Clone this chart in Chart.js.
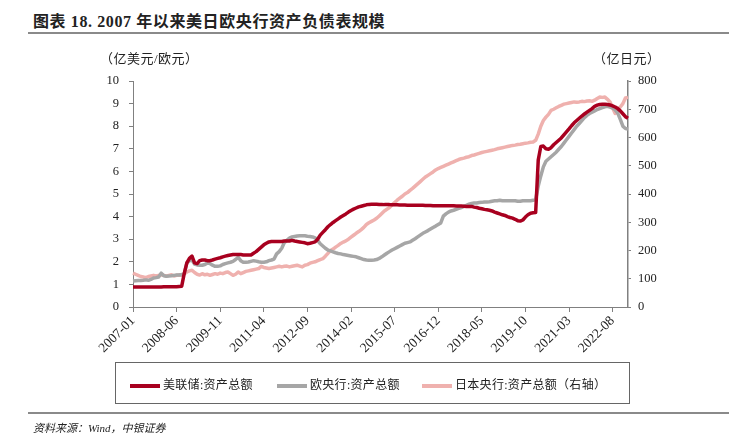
<!DOCTYPE html>
<html>
<head>
<meta charset="utf-8">
<script src="https://cdn.jsdelivr.net/npm/chart.js@4.4.0/dist/chart.umd.min.js"></script>
<style>
  body { margin: 0; background: #fff; }
  #wrap { position: relative; width: 729px; height: 444px; overflow: hidden;
          font-family: "Liberation Serif", "Noto Sans CJK SC", serif; color: #222; }
  #title { position: absolute; left: 33px; top: 8px; font-size: 16px; font-weight: bold; white-space: nowrap; letter-spacing: 0.6px; }
  .rule { position: absolute; left: 28px; width: 701px; height: 2px; background: #8a8a8a; }
  canvas { position: absolute; left: 0; top: 0; }
  .axt { position: absolute; font-size: 13px; white-space: nowrap; letter-spacing: 0.5px; }
  #legend { position: absolute; left: 115px; top: 362px; width: 515px; height: 42px;
            border: 1px solid #666; box-sizing: border-box; }
  .li { position: absolute; top: 12px; font-size: 12px; white-space: nowrap; letter-spacing: 0.3px; }
  .sw { display: inline-block; width: 30px; height: 4px; vertical-align: middle; margin-right: 3px; }
  #source { position: absolute; left: 33px; top: 419px; font-size: 11px; font-style: italic; white-space: nowrap; }
</style>
</head>
<body>
<div id="wrap">
  <div id="title">图表 18. 2007 年以来美日欧央行资产负债表规模</div>
  <div class="rule" style="top:32px"></div>
  <canvas id="chart" width="729" height="444"></canvas>
  <div class="axt" style="left:100px; top:48px">（亿美元/欧元）</div>
  <div class="axt" style="left:593px; top:48px">（亿日元）</div>
  <div id="legend">
    <div class="li" style="left:14px"><span class="sw" style="background:#a8001f"></span>美联储:资产总额</div>
    <div class="li" style="left:161px"><span class="sw" style="background:#a6a6a6"></span>欧央行:资产总额</div>
    <div class="li" style="left:306px"><span class="sw" style="background:#efb1ae"></span>日本央行:资产总额（右轴）</div>
  </div>
  <div class="rule" style="top:412px"></div>
  <div id="source">资料来源：Wind，中银证券</div>
</div>
<script>
// monthly, 2007-01 .. 2023-02
const startYear = 2007
const monthCount = 194
const tickLabels = ['2007-01', '2008-06', '2009-11', '2011-04', '2012-09', '2014-02',
                    '2015-07', '2016-12', '2018-05', '2019-10', '2021-03', '2022-08']

// 美联储:资产总额 (left axis)
const fed = [
  0.88, 0.88, 0.88, 0.88, 0.88, 0.88, 0.89, 0.89, 0.88, 0.88, 0.89, 0.89,
  0.90, 0.90, 0.90, 0.90, 0.90, 0.90, 0.91, 0.92, 1.50, 1.95, 2.15, 2.25,
  1.95, 1.92, 2.05, 2.08, 2.08, 2.05, 2.05, 2.08, 2.12, 2.15, 2.18, 2.22,
  2.25, 2.28, 2.30, 2.32, 2.32, 2.32, 2.32, 2.30, 2.30, 2.30, 2.30, 2.38,
  2.45, 2.55, 2.65, 2.75, 2.82, 2.88, 2.90, 2.90, 2.90, 2.90, 2.90, 2.92,
  2.92, 2.92, 2.95, 2.92, 2.90, 2.88, 2.86, 2.84, 2.80, 2.82, 2.85, 2.88,
  3.00, 3.18, 3.30, 3.42, 3.55, 3.65, 3.74, 3.82, 3.90, 3.98, 4.05, 4.12,
  4.20, 4.27, 4.33, 4.38, 4.43, 4.46, 4.49, 4.52, 4.54, 4.55, 4.55, 4.55,
  4.54, 4.54, 4.53, 4.53, 4.53, 4.52, 4.52, 4.52, 4.51, 4.51, 4.51, 4.50,
  4.50, 4.50, 4.50, 4.50, 4.50, 4.50, 4.49, 4.49, 4.49, 4.48, 4.48, 4.48,
  4.48, 4.48, 4.48, 4.48, 4.48, 4.48, 4.47, 4.47, 4.47, 4.46, 4.45, 4.45,
  4.45, 4.42, 4.40, 4.37, 4.35, 4.32, 4.30, 4.28, 4.25, 4.20, 4.16, 4.12,
  4.08, 4.05, 4.00, 3.96, 3.93, 3.88, 3.82, 3.80, 3.85, 3.98, 4.08, 4.15,
  4.17, 4.18, 6.50, 7.10, 7.12, 7.00, 6.98, 7.05, 7.18, 7.28, 7.38, 7.48,
  7.62, 7.75, 7.88, 8.02, 8.15, 8.25, 8.35, 8.45, 8.54, 8.62, 8.70, 8.78,
  8.88, 8.93, 8.96, 8.97, 8.97, 8.96, 8.94, 8.90, 8.85, 8.78, 8.68, 8.55,
  8.42, 8.35
]

// 欧央行:资产总额 (left axis)
const ecb = [
  1.15, 1.16, 1.17, 1.17, 1.18, 1.20, 1.18, 1.22, 1.28, 1.30, 1.33, 1.50,
  1.38, 1.36, 1.37, 1.38, 1.40, 1.42, 1.42, 1.44, 1.48, 1.95, 2.05, 2.08,
  1.90, 1.86, 1.85, 1.85, 1.88, 1.95, 1.92, 1.85, 1.80, 1.80, 1.82, 1.88,
  1.92, 1.95, 1.98, 2.02, 2.10, 2.20, 2.05, 1.98, 1.98, 1.99, 2.02, 2.05,
  2.03, 2.00, 1.98, 1.98, 2.00, 2.05, 2.08, 2.12, 2.35, 2.45, 2.60, 2.85,
  2.95, 3.05, 3.10, 3.12, 3.14, 3.15, 3.15, 3.15, 3.13, 3.12, 3.10, 3.06,
  2.95, 2.80, 2.70, 2.60, 2.52, 2.48, 2.44, 2.40, 2.37, 2.35, 2.32, 2.30,
  2.28, 2.26, 2.24, 2.22, 2.18, 2.14, 2.10, 2.08, 2.07, 2.07, 2.08, 2.10,
  2.15, 2.22, 2.30, 2.38, 2.45, 2.52, 2.58, 2.64, 2.70, 2.76, 2.82, 2.85,
  2.88, 2.95, 3.02, 3.10, 3.18, 3.26, 3.32, 3.38, 3.45, 3.52, 3.58, 3.65,
  3.72, 4.02, 4.12, 4.20, 4.25, 4.28, 4.32, 4.36, 4.40, 4.45, 4.50, 4.55,
  4.58, 4.60, 4.60, 4.62, 4.63, 4.65, 4.65, 4.66, 4.68, 4.70, 4.70, 4.72,
  4.70, 4.70, 4.70, 4.70, 4.70, 4.70, 4.68, 4.68, 4.70, 4.70, 4.70, 4.70,
  4.72, 4.75, 5.35, 5.80, 6.20, 6.45, 6.55, 6.65, 6.75, 6.85, 6.98, 7.10,
  7.25, 7.40, 7.55, 7.70, 7.85, 8.00, 8.12, 8.25, 8.38, 8.48, 8.56, 8.62,
  8.68, 8.74, 8.78, 8.82, 8.86, 8.88, 8.84, 8.80, 8.72, 8.58, 8.30, 8.00,
  7.90, 7.88
]

// 日本央行:资产总额 (right axis)
const boj = [
  120, 116, 112, 108, 106, 104, 108, 110, 112, 110, 112, 114,
  112, 110, 112, 114, 110, 112, 113, 112, 118, 124, 128, 130,
  122, 116, 113, 118, 114, 116, 112, 115, 118, 116, 120, 118,
  122, 124, 118, 112, 116, 124, 118, 122, 126, 128, 130, 132,
  134, 136, 144, 140, 138, 136, 138, 140, 142, 144, 142, 144,
  145, 142, 144, 146, 148, 145, 142, 148, 150, 155, 158, 160,
  164, 168, 171, 180, 190, 200, 205, 212, 218, 225, 230, 234,
  240, 247, 254, 261, 267, 274, 282, 292, 298, 303, 308, 314,
  322, 331, 340, 346, 352, 362, 370, 378, 385, 392, 400, 405,
  413, 420, 428, 436, 444, 452, 460, 466, 472, 478, 485, 490,
  494, 498, 502, 506, 510, 514, 518, 522, 525, 527, 530, 532,
  536, 538, 541, 544, 547, 549, 551, 553, 555, 557, 560, 562,
  564, 566, 568, 570, 572, 573, 575, 576, 578, 580, 581, 583,
  584, 590, 612, 640, 660, 672, 682, 696, 700, 705, 710, 714,
  718, 720, 722, 724, 726, 725, 726, 728, 727, 729, 730, 728,
  732, 738, 743, 742, 743, 735, 726, 705, 685, 700, 708, 720,
  740, 742
]

let months = []
for (let i = 0; i < monthCount; i++) {
  let y = startYear + Math.floor(i / 12)
  let m = (i % 12) + 1
  months.push(y + '-' + (m < 10 ? '0' + m : m))
}

const tickFont = { family: 'Liberation Serif', size: 12.5 }
const axisGray = '#808080'

new Chart(document.getElementById('chart'), {
  type: 'line',
  data: {
    labels: months,
    datasets: [
      { label: '美联储:资产总额', data: fed, yAxisID: 'y', borderColor: '#a8001f', borderWidth: 3.5 },
      { label: '欧央行:资产总额', data: ecb, yAxisID: 'y', borderColor: '#a6a6a6', borderWidth: 3.5 },
      { label: '日本央行:资产总额（右轴）', data: boj, yAxisID: 'y2', borderColor: '#efb1ae', borderWidth: 3.5 }
    ]
  },
  options: {
    responsive: false,
    animation: false,
    layout: { padding: { top: 81, left: 0, right: 0, bottom: 0 } },
    elements: { point: { radius: 0 }, line: { tension: 0, borderJoinStyle: 'round' } },
    plugins: { legend: { display: false }, tooltip: { enabled: false } },
    scales: {
      x: {
        offset: false,
        afterFit: (s) => { s.height = 137 },
        grid: { drawOnChartArea: false, drawTicks: true, tickLength: 5, color: axisGray },
        border: { color: axisGray, width: 1 },
        ticks: {
          autoSkip: false, minRotation: 45, maxRotation: 45, padding: 1,
          font: { family: 'Liberation Serif', size: 13.5 }, color: '#222',
          callback: function(v, i) {
            let l = months[i]
            return tickLabels.includes(l) ? l : null
          }
        }
      },
      y: {
        position: 'left', min: 0, max: 10,
        afterFit: (s) => { s.width = 133 },
        grid: { drawOnChartArea: false, drawTicks: true, tickLength: 4, color: axisGray },
        border: { color: axisGray, width: 1 },
        ticks: { stepSize: 1, padding: 10, font: tickFont, color: '#222' }
      },
      y2: {
        position: 'right', min: 0, max: 800,
        afterFit: (s) => { s.width = 101 },
        grid: { drawOnChartArea: false, drawTicks: true, tickLength: 3, color: axisGray },
        border: { color: axisGray, width: 1.5 },
        ticks: { stepSize: 100, padding: 7, font: tickFont, color: '#222' }
      }
    }
  }
})
</script>
</body>
</html>
